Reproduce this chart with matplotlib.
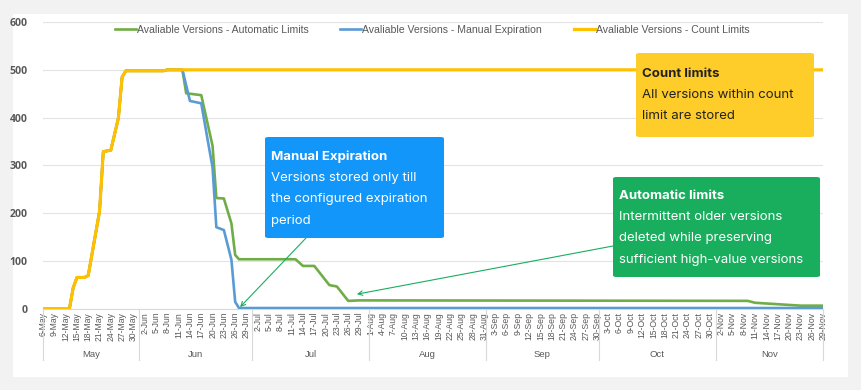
import numpy as np
import pandas as pd
import matplotlib
matplotlib.use("Agg")
from matplotlib import pyplot as plt
from matplotlib.patches import FancyBboxPatch, Rectangle
import matplotlib.transforms as mtransforms

W, H = 861, 390

# knots (date, number of versions)
count_dates = ["2023-05-06", "2023-05-13", "2023-05-14", "2023-05-15", "2023-05-17", "2023-05-18",
               "2023-05-21", "2023-05-22", "2023-05-24", "2023-05-26", "2023-05-27", "2023-05-28",
               "2023-06-07", "2023-06-08", "2023-11-29"]
count_vals = [0, 0, 44, 66, 66, 70, 204, 329, 332, 399, 485, 498, 498, 500, 500]

auto_dates = ["2023-05-06", "2023-05-13", "2023-05-14", "2023-05-15", "2023-05-17", "2023-05-18",
              "2023-05-21", "2023-05-22", "2023-05-24", "2023-05-26", "2023-05-27", "2023-05-28",
              "2023-06-07", "2023-06-08", "2023-06-12", "2023-06-13", "2023-06-17", "2023-06-20",
              "2023-06-21", "2023-06-23", "2023-06-25", "2023-06-26", "2023-06-27", "2023-07-12",
              "2023-07-14", "2023-07-17", "2023-07-21", "2023-07-23", "2023-07-26", "2023-07-29",
              "2023-11-09", "2023-11-11", "2023-11-23", "2023-11-29"]
auto_vals = [0, 0, 44, 66, 66, 70, 204, 329, 332, 399, 485, 498, 498, 500, 500, 451, 447, 341,
             232, 231, 179, 113, 104, 104, 90, 90, 50, 47, 17, 18, 17, 13, 7, 7]

manual_dates = ["2023-05-06", "2023-05-13", "2023-05-14", "2023-05-15", "2023-05-17", "2023-05-18",
                "2023-05-21", "2023-05-22", "2023-05-24", "2023-05-26", "2023-05-27", "2023-05-28",
                "2023-06-07", "2023-06-08", "2023-06-12", "2023-06-14", "2023-06-17", "2023-06-19",
                "2023-06-20", "2023-06-21", "2023-06-23", "2023-06-25", "2023-06-26", "2023-06-27",
                "2023-11-29"]
manual_vals = [0, 0, 44, 66, 66, 70, 204, 329, 332, 399, 485, 498, 498, 500, 500, 435, 430, 340,
               296, 171, 165, 103, 15, 2, 2]

start = pd.Timestamp("2023-05-06")
end = pd.Timestamp("2023-11-29")
months = ["May", "Jun", "Jul", "Aug", "Sep", "Oct", "Nov"]

legend_labels = ["Avaliable Versions - Automatic Limits",
                 "Avaliable Versions - Manual Expiration",
                 "Avaliable Versions - Count Limits"]


def days(dates):
    return (pd.to_datetime(dates) - start).days.values


def fpx(x, y):
    # figure pixel (from top-left) -> figure fraction
    return (x / W, 1 - y / H)


fig = plt.figure(figsize=(W / 100, H / 100), dpi=100, facecolor="#f2f2f2")
fig.add_artist(Rectangle(fpx(13, 377), (848 - 13) / W, (377 - 14) / H,
                         transform=fig.transFigure, facecolor="white", edgecolor="none", zorder=0))

x0, y0 = fpx(43, 309)
x1, y1 = fpx(823, 22)
ax = fig.add_axes([x0, y0, x1 - x0, y1 - y0])
ax.set_facecolor("none")

ln_auto, = ax.plot(days(auto_dates), auto_vals, color="#70ad47", lw=1.9, zorder=3)
ln_man, = ax.plot(days(manual_dates), manual_vals, color="#5b9bd5", lw=1.9, zorder=4)
ln_cnt, = ax.plot(days(count_dates), count_vals, color="#ffc000", lw=2.3, zorder=5)

ndays = (end - start).days
ax.set_xlim(0, ndays)
ax.set_ylim(0, 600)
ax.set_yticks(range(0, 601, 100))
ax.grid(axis="y", color="#e3e3e3", lw=0.8)
ax.set_axisbelow(True)
for s in ["top", "right", "left"]:
    ax.spines[s].set_visible(False)
ax.spines["bottom"].set_color("#d9d9d9")

ax.tick_params(axis="y", length=0, pad=11, labelsize=7.6, labelcolor="#595959")
for lab in ax.get_yticklabels():
    lab.set_fontfamily("Open Sans")
    lab.set_fontweight("bold")

tick_dates = pd.date_range(start, end, freq="3D")
ax.set_xticks((tick_dates - start).days)
ax.set_xticklabels([f"{d.day}-{d.strftime('%b')}" for d in tick_dates],
                   rotation=90, fontsize=6.2, color="#595959", family="Liberation Sans")
ax.tick_params(axis="x", length=0, pad=2)

# month groups under the date labels
trans = mtransforms.blended_transform_factory(ax.transData, ax.transAxes)
bounds = [0] + [(pd.Timestamp(f"2023-{m:02d}-01") - start).days - 0.5 for m in range(6, 12)] + [ndays]
for b in bounds:
    ax.plot([b, b], [0, -0.178], transform=trans, color="#d9d9d9", lw=0.8, clip_on=False)
for i, m in enumerate(months):
    ax.text((bounds[i] + bounds[i + 1]) / 2, -0.157, m, transform=trans, ha="center", va="center",
            fontsize=6.8, color="#595959", family="Liberation Sans")

fig.legend([ln_auto, ln_man, ln_cnt], legend_labels, loc="center", bbox_to_anchor=fpx(432, 30),
           ncol=3, frameon=False, prop={"family": "Liberation Sans", "size": 7.6},
           labelcolor="#595959", handlelength=2.0, handletextpad=0.1, columnspacing=3.0)


def box(xa, ya, xb, yb, color, title, lines, tcolor, tx, ty):
    p = FancyBboxPatch(fpx(xa, yb), (xb - xa) / W, (yb - ya) / H, transform=fig.transFigure,
                       boxstyle="round,pad=0,rounding_size=0.004", facecolor=color,
                       edgecolor="none", zorder=10)
    fig.add_artist(p)
    fig.text(*fpx(tx, ty), title, fontsize=9.5, fontweight="bold", color=tcolor,
             family="Inter", va="center", zorder=11)
    for k, t in enumerate(lines):
        fig.text(*fpx(tx, ty + 21.2 * (k + 1)), t, fontsize=9.5, color=tcolor,
                 family="Inter", va="center", zorder=11)


box(636, 53, 814, 137, "#ffcd2a", "Count limits",
    ["All versions within count", "limit are stored"], "#222222", 642, 74)
box(265, 137, 444, 238, "#1296fa", "Manual Expiration",
    ["Versions stored only till", "the configured expiration", "period"], "white", 271, 157)
box(613, 177, 820, 277, "#19ae5e", "Automatic limits",
    ["Intermittent older versions", "deleted while preserving", "sufficient high-value versions"],
    "white", 619, 196)

arrow = dict(arrowstyle="->", color="#19ae5e", lw=0.8, shrinkA=0, shrinkB=0,
             mutation_scale=8)
ax.annotate("", xy=(52.3, 4), xycoords="data", xytext=fpx(306, 238),
            textcoords="figure fraction", arrowprops=arrow, zorder=12, annotation_clip=False)
ax.annotate("", xy=(83.3, 31), xycoords="data", xytext=fpx(613, 246),
            textcoords="figure fraction", arrowprops=arrow, zorder=12, annotation_clip=False)
ax.annotate("", xy=fpx(430, 196), xycoords="figure fraction", xytext=fpx(356, 188),
            textcoords="figure fraction", arrowprops=arrow, zorder=12, annotation_clip=False)

fig.savefig("out.png", dpi=100, facecolor=fig.get_facecolor())
